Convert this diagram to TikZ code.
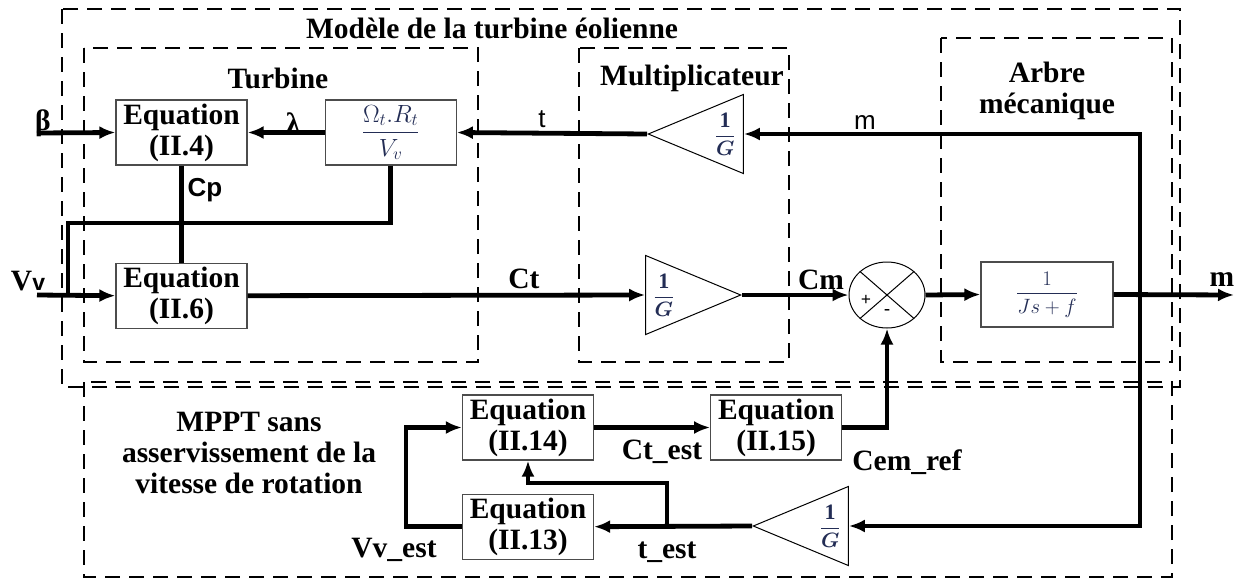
\documentclass[tikz,border=0pt]{standalone}
\usepackage{amsmath}
\usepackage{fontspec}
\setmainfont{Liberation Serif}
\setsansfont{Liberation Sans}
\usetikzlibrary{shapes,arrows.meta,positioning,backgrounds}
\definecolor{mathblue}{RGB}{35,45,85}
\newcommand{\bigfont}{\fontsize{29.5}{31}\selectfont\bfseries}
\newcommand{\sigfont}{\fontsize{26}{26}\selectfont\sffamily}
\tikzstyle{eqbox} = [rectangle, draw=black!70, line width=1.2pt, fill=white,
minimum width=131pt, minimum height=65pt, inner sep=0pt, align=center, font=\bigfont]
\tikzstyle{gain} = [isosceles triangle, isosceles triangle stretches, draw, line width=1pt,
fill=white, minimum width=79pt, minimum height=95pt, inner sep=0pt]
\tikzstyle{gaintxt} = [font=\fontsize{22}{24}\selectfont\color{mathblue}, inner sep=0pt]
\tikzstyle{line} = [draw, line width=4.8pt, -{Latex[length=16pt,width=13pt]}]
\tikzstyle{wire} = [draw, line width=4.8pt]
\tikzstyle{group} = [draw, line width=2pt, dash pattern=on 15pt off 9pt]
\tikzstyle{lbl} = [font=\bigfont, inner sep=0pt]
\tikzstyle{slbl} = [font=\sigfont, inner sep=0pt]

\begin{document}
\begin{tikzpicture}[x=1pt, y=-1pt]
\useasboundingbox (0,0) rectangle (1236,579);

% Group boxes
\draw [group] (62,9) rectangle (1180,387);
\draw [group] (84,48) rectangle (478,362);
\draw [group] (579,48) rectangle (789,362);
\draw [group] (941,38) rectangle (1172,362);
\draw [group] (84,382) rectangle (1172,577);

\node [lbl] (title) at (492,28) {Modèle de la turbine éolienne};
\node [lbl] (turblbl) at (278,78) {Turbine};
\node [lbl] (multlbl) at (692,78) {Multiplicateur};
\node [lbl, align=center] (arbrelbl) at (1047,91) {Arbre\\mécanique};
\node [lbl, align=center] (mpptlbl) at (249,453) {MPPT sans\\asservissement de la\\vitesse de rotation};

% Turbine model blocks
\node [eqbox] (eq4) at (181.5,132.5) {Equation\\(II.4)};
\node [eqbox, below=97pt of eq4] (eq6) {Equation\\(II.6)};
\node [eqbox, right=77pt of eq4, font=\fontsize{27}{29}\selectfont\color{mathblue}] (omega) {$\dfrac{\Omega_t.R_t}{V_v}$};
\node [gain, shape border rotate=180, anchor=apex] (g1) at (647,134) {};
\node [gaintxt, left=8pt] (g1txt) at (g1.lower side) {$\dfrac{\mathbf{1}}{\boldsymbol{G}}$};
\node [gain, anchor=apex] (g2) at (742,295) {};
\node [gaintxt, right=8pt] (g2txt) at (g2.lower side) {$\dfrac{\mathbf{1}}{\boldsymbol{G}}$};
\node [draw, ellipse, line width=1pt, fill=white, minimum width=76pt, minimum height=66pt, inner sep=0pt] (sum) at (887,295) {};
\node [eqbox, minimum width=132pt, font=\fontsize{21}{23}\selectfont\color{mathblue}] (jsf) at (1047,294.5) {$\dfrac{1}{Js+f}$};

% MPPT blocks
\node [eqbox] (eq14) at (528,427.5) {Equation\\(II.14)};
\node [eqbox, right=116pt of eq14] (eq15) {Equation\\(II.15)};
\node [eqbox, below=33pt of eq14] (eq13) {Equation\\(II.13)};
\node [gain, shape border rotate=180, anchor=apex] (g3) at (752,526) {};
\node [gaintxt, left=8pt] (g3txt) at (g3.lower side) {$\dfrac{\mathbf{1}}{\boldsymbol{G}}$};

% Free ends and corners
\coordinate (bin) at (37,133);
\coordinate (vin) at (37,295);
\coordinate (fb) at (68,223);
\coordinate (vj) at (68,295);
\coordinate (cpj) at (181.5,223);
\coordinate (tap) at (1140,295);
\coordinate (mout) at (1234,295);
\coordinate (tb) at (667,526);

% Edges
\path [line] (bin) -- (eq4.west);
\path [line] (omega.west) -- (eq4.east);
\path [line] (g1.apex) -- (omega.east);
\path [line] (tap) |- (g1.lower side);
\path [line] (tap) |- (g3.lower side);
\path [wire] (omega.south) |- (fb) -- (vj);
\path [line] (vin) -- (eq6.west);
\path [wire] (eq4.south) -- (eq6.north);
\fill (cpj) circle (3.5pt);
\path [line] (eq6.east) -- (g2.lower side);
\path [line] (g2.apex) -- (sum.west);
\path [line] (sum.east) -- (jsf.west);
\path [line] (jsf.east) -- (mout);
\draw [line width=1pt] (sum.north west) -- (sum.south east) (sum.north east) -- (sum.south west);
\node [inner sep=0pt, font=\fontsize{18}{18}\selectfont\bfseries] (plus) at (866,300) {+};
\node [inner sep=0pt, font=\fontsize{18}{18}\selectfont\bfseries] (minus) at (887,312) {-};
\path [line] (eq14.east) -- (eq15.west);
\path [line] (eq15.east) -| (sum.south);
\path [line] (g3.apex) -- (eq13.east);
\path [line] (tb) -- ++(0,-43) -| (eq14.south);
\path [line] (eq13.west) -- ++(-56,0) |- (eq14.west);

% Signal labels
\node [lbl] (beta) at (43,123) {β};
\node [lbl] (lambda) at (293,123) {λ};
\node [slbl] (tlbl) at (542,119) {t};
\node [slbl] (mlbl) at (865,122) {m};
\node [slbl, font=\sigfont\bfseries] (cplbl) at (205,190) {Cp};
\node [lbl] (vvlbl) at (28,281) {V{\sffamily\fontsize{23}{23}\selectfont v}};
\node [lbl] (ctlbl) at (524,279) {Ct};
\node [lbl] (cmlbl) at (821,280) {Cm};
\node [lbl] (moutlbl) at (1222,280) {m};
\node [lbl] (ctestlbl) at (662,452) {Ct\_est};
\node [lbl] (testlbl) at (667,552) {t\_est};
\node [lbl] (vvestlbl) at (394,550) {Vv\_est};
\node [lbl] (cemlbl) at (907,462) {Cem\_ref};

\end{tikzpicture}
\end{document}
